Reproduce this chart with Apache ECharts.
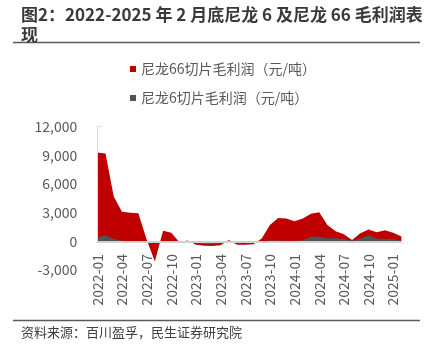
<!DOCTYPE html>
<html>
<head>
<meta charset="utf-8">
<script src="https://cdn.jsdelivr.net/npm/echarts@6/dist/echarts.min.js"></script>
<style>
html,body{margin:0;padding:0;background:#fff;}
#chart{width:424px;height:351px;}
</style>
</head>
<body>
<div id="chart"></div>
<script>
const months = ['2022-01','2022-02','2022-03','2022-04','2022-05','2022-06','2022-07','2022-08','2022-09','2022-10','2022-11','2022-12',
'2023-01','2023-02','2023-03','2023-04','2023-05','2023-06','2023-07','2023-08','2023-09','2023-10','2023-11','2023-12',
'2024-01','2024-02','2024-03','2024-04','2024-05','2024-06','2024-07','2024-08','2024-09','2024-10','2024-11','2024-12',
'2025-01','2025-02'];
const nylon66 = [9300, 9200, 4700, 3100, 3000, 2950, 200, -2100, 1100, 900, -100, 100,
  -350, -450, -500, -400, 150, -350, -350, -300, 300, 1700, 2450, 2400,
  2100, 2400, 2900, 3050, 1700, 1050, 750, 150, 850, 1250, 950, 1150,
  900, 500];
const nylon6 = [400, 650, 250, 50, 0, 0, 0, -50, 0, -50, -100, -50,
  -200, -300, -300, -200, 0, -200, -200, -200, 0, 100, 100, 50,
  50, 100, 480, 480, 320, 320, 250, 50, 300, 630, 300, 280,
  250, 100];
const seriesNames = ['尼龙66切片毛利润（元/吨）', '尼龙6切片毛利润（元/吨）'];
const titleText = '图2：2022-2025 年 2 月底尼龙 6 及尼龙 66 毛利润表\n现';
const sourceText = '资料来源：百川盈孚，民生证券研究院';

const FONT = '"Noto Sans CJK SC", "Noto Sans", sans-serif';
const chart = echarts.init(document.getElementById('chart'));
chart.setOption({
  animation: false,
  backgroundColor: '#fff',
  title: {
    text: titleText,
    left: 21, top: 4.5, padding: 0,
    textStyle: {fontFamily: FONT, fontSize: 17, fontWeight: 'bold', color: '#3a3a3a', lineHeight: 20}
  },
  graphic: [
    {type: 'line', shape: {x1: 13, y1: 42.5, x2: 420, y2: 42.5}, style: {stroke: '#5a5a5a', lineWidth: 1.5}},
    {type: 'line', shape: {x1: 13, y1: 320.5, x2: 420, y2: 320.5}, style: {stroke: '#5a5a5a', lineWidth: 1.5}},
    {type: 'text', left: 21, top: 326, style: {text: sourceText, font: '13px ' + FONT, fill: '#404040'}}
  ],
  legend: {
    orient: 'vertical',
    left: 125, top: 56,
    icon: 'rect',
    itemWidth: 6, itemHeight: 6,
    itemGap: 13,
    textStyle: {fontFamily: FONT, fontSize: 14, color: '#595959', lineHeight: 16},
    data: seriesNames
  },
  grid: {left: 97.3, right: 22.6, top: 126.7, bottom: 81, containLabel: false},
  xAxis: {
    type: 'category',
    data: months,
    boundaryGap: false,
    z: 10,
    axisLine: {onZero: true, lineStyle: {color: '#d0d0d0', width: 2}},
    axisTick: {show: false},
    axisLabel: {interval: 2, rotate: 90, margin: -16, fontFamily: FONT, fontSize: 14, color: '#595959'},
    splitLine: {show: false}
  },
  yAxis: {
    type: 'value',
    min: -3000, max: 12000, interval: 3000,
    axisLine: {show: false},
    axisTick: {show: true, inside: true, length: 4, lineStyle: {color: '#d9d9d9'}},
    axisLabel: {margin: 20, fontFamily: FONT, fontSize: 14, color: '#595959',
      formatter: v => v.toLocaleString('en-US')},
    splitLine: {show: false}
  },
  series: [
    {
      name: seriesNames[0], type: 'line', data: nylon66,
      symbol: 'none', lineStyle: {width: 0}, areaStyle: {color: '#C00000', opacity: 1},
      itemStyle: {color: '#C00000'}, z: 2,
      markLine: {
        silent: true, symbol: 'none', label: {show: false},
        lineStyle: {color: '#d9d9d9', width: 1, type: 'solid'},
        data: [[{coord: [months[0], 0]}, {coord: [months[0], 12000]}]]
      }
    },
    {
      name: seriesNames[1], type: 'line', data: nylon6,
      symbol: 'none', lineStyle: {width: 0}, areaStyle: {color: '#525252', opacity: 1},
      itemStyle: {color: '#525252'}, z: 3
    }
  ]
});
</script>
</body>
</html>
